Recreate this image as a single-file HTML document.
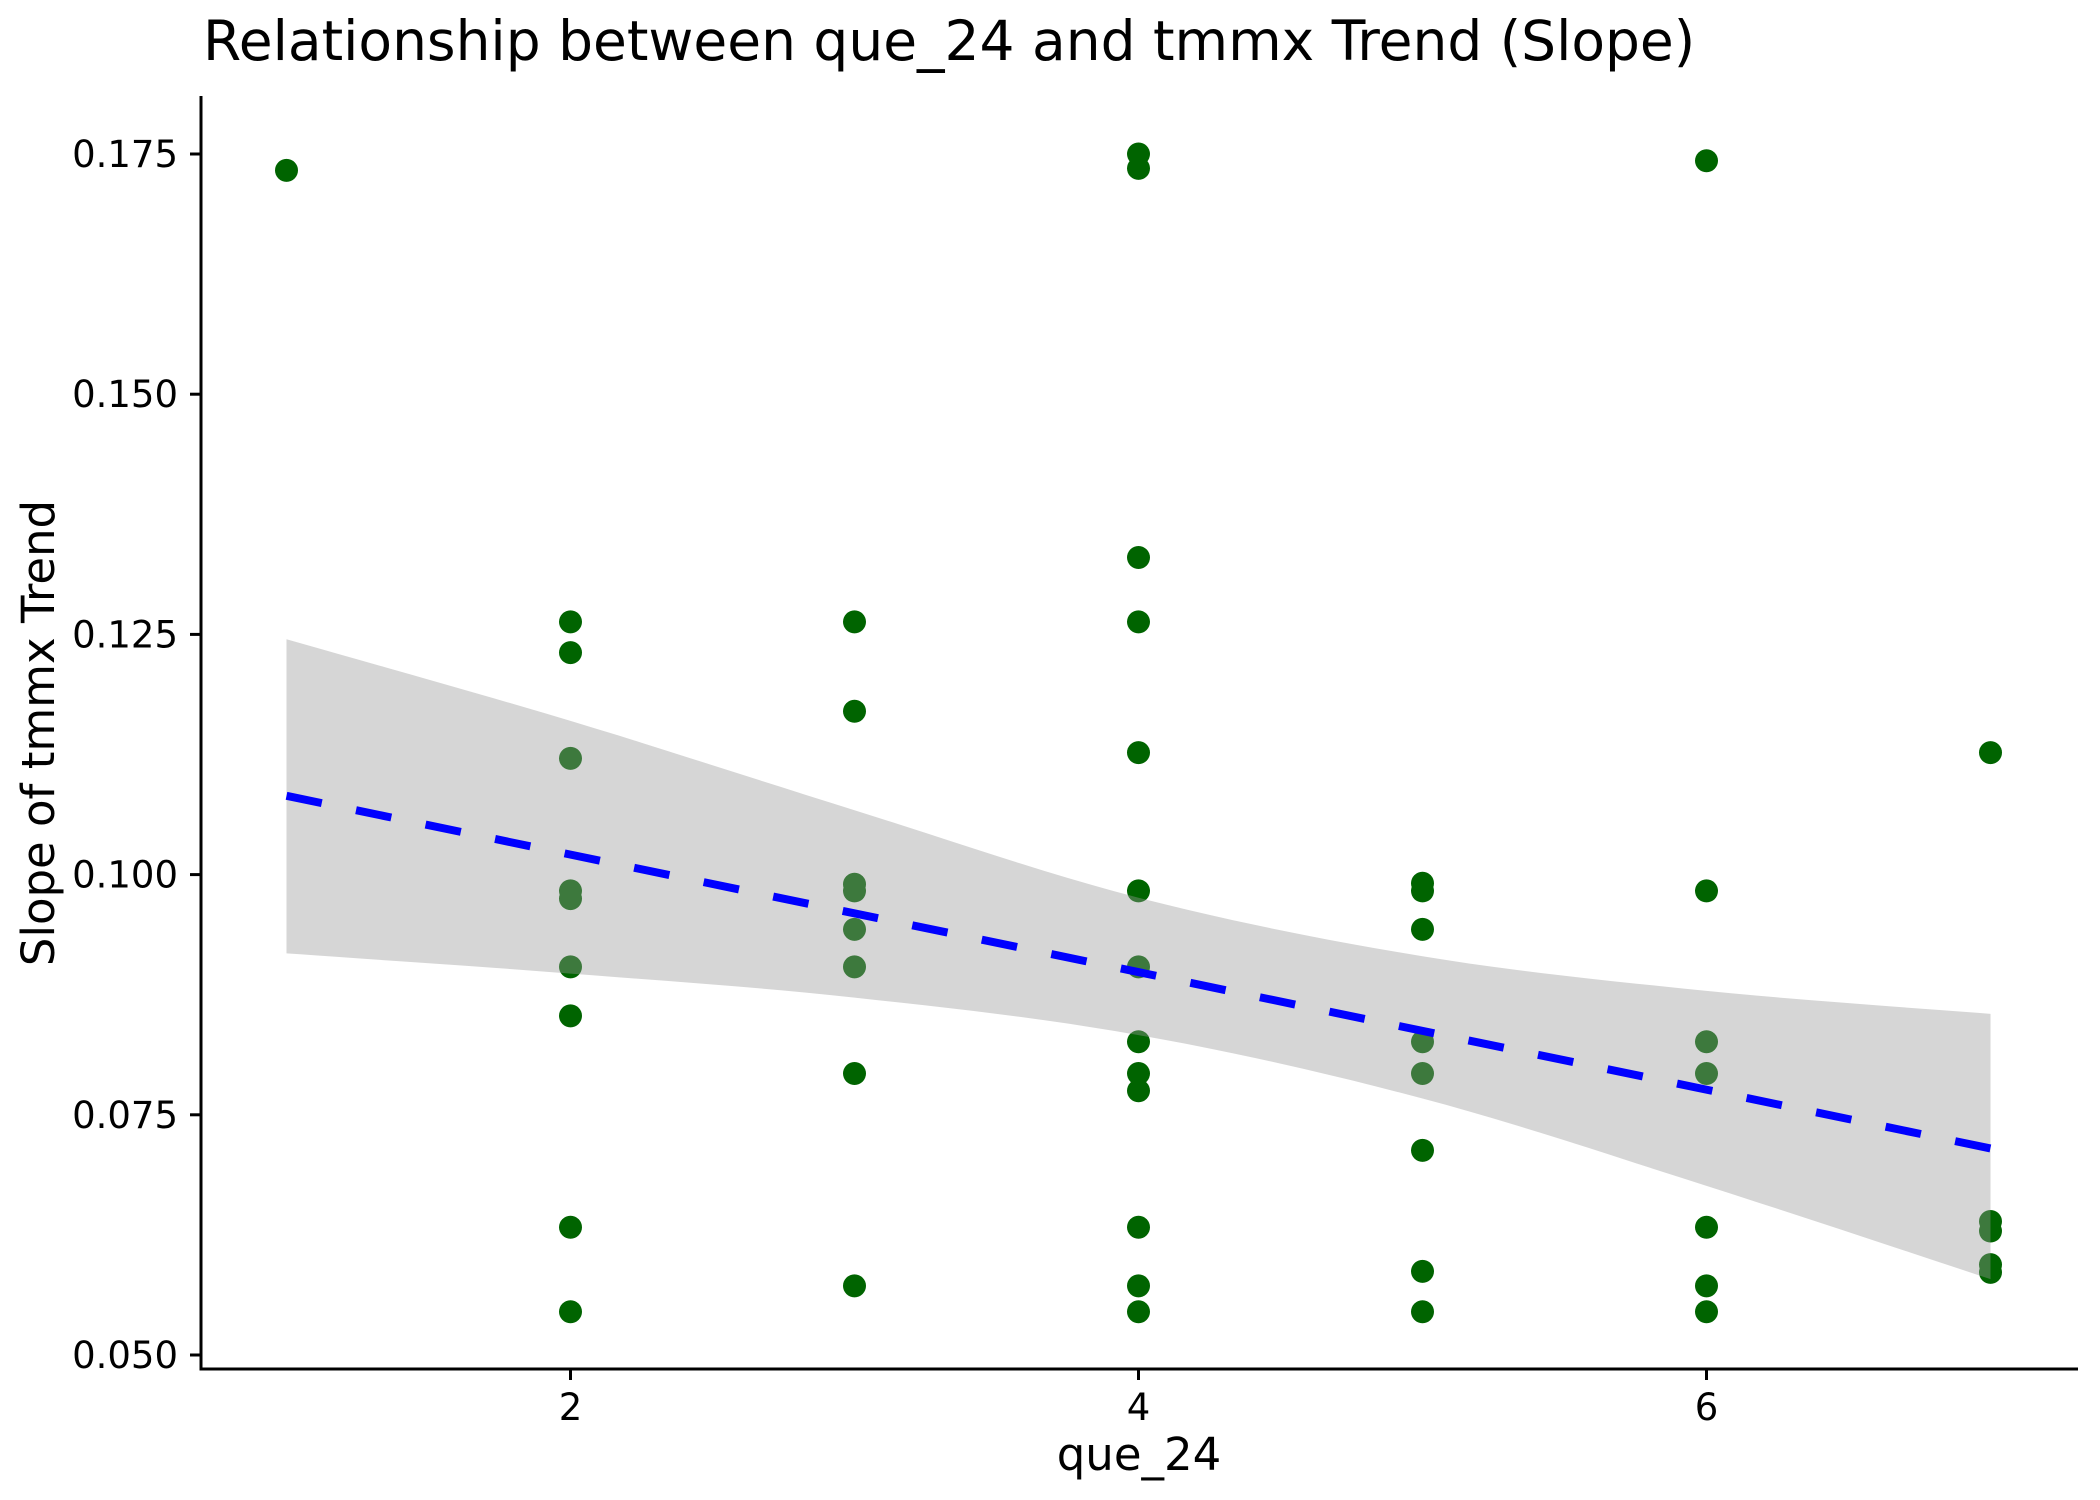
<!DOCTYPE html>
<html><head><meta charset="utf-8"><style>
html,body{margin:0;padding:0;background:#fff;}
svg{display:block;font-family:"DejaVu Sans","Liberation Sans",sans-serif;}
</style></head><body>
<svg id="chart" width="2100" height="1500" viewBox="0 0 2100 1500" xmlns="http://www.w3.org/2000/svg">
<rect width="2100" height="1500" fill="#fff"/>
<text x="203" y="60" font-size="55" fill="#000">Relationship between que_24 and tmmx Trend (Slope)</text>
<g id="points"></g>
<g id="ribbon"></g>
<g id="line"></g>
<g id="axes"></g>
<text x="1139" y="1470" font-size="45" text-anchor="middle" fill="#000">que_24</text>
<text transform="translate(54,733) rotate(-90)" font-size="45" text-anchor="middle" fill="#000">Slope of tmmx Trend</text>
</svg>
<script>
const xValues = [1,
 2,2,2,2,2,2,2,2,2,
 3,3,3,3,3,3,3,3,
 4,4,4,4,4,4,4,4,4,4,4,4,4,
 5,5,5,5,5,5,5,5,
 6,6,6,6,6,6,6,
 7,7,7,7,7];
const yValues = [0.1733,
 0.1263,0.1231,0.1121,0.0983,0.0975,0.0904,0.0853,0.0633,0.0545,
 0.1263,0.1170,0.0990,0.0983,0.0943,0.0904,0.0793,0.0572,
 0.1750,0.1735,0.1330,0.1263,0.1127,0.0983,0.0904,0.0826,0.0793,0.0775,0.0633,0.0572,0.0545,
 0.0991,0.0983,0.0943,0.0826,0.0793,0.0713,0.0587,0.0545,
 0.1743,0.0983,0.0826,0.0793,0.0633,0.0572,0.0545,
 0.1127,0.0639,0.0629,0.0594,0.0586];
const bandX = [1,2,3,4,5,6,7];
const bandUpper = [0.1245,0.1160,0.1067,0.0976,0.0915,0.0879,0.0855];
const bandLower = [0.0918,0.0897,0.0872,0.0833,0.0767,0.0676,0.0579];
const fitX = [1,7];
const fitY = [0.1082,0.0715];
const xTicks = [2,4,6];
const yTicks = [0.050,0.075,0.100,0.125,0.150,0.175];
const yTickLabels = ["0.050","0.075","0.100","0.125","0.150","0.175"];

const NS="http://www.w3.org/2000/svg";
const X0=201, X1=2078, Y0=96, Y1=1369;
function sx(v){return 570.5+(v-2)*284;}
function sy(v){return 1355-(v-0.05)*(1201/0.125);}
function mk(tag,attrs,parent){const e=document.createElementNS(NS,tag);for(const k in attrs)e.setAttribute(k,attrs[k]);parent.appendChild(e);return e;}

// points
const pg=document.getElementById('points');
xValues.forEach((x,i)=>{
  const c=mk('circle',{cx:sx(x),cy:sy(yValues[i]),r:11.5,fill:'#006400'},pg);
  
  
});

// smooth curve through band values (Catmull-Rom)
function smooth(xs,ys){
  const P=xs.map((x,i)=>[sx(x),sy(ys[i])]);const out=[];
  for(let i=0;i<P.length-1;i++){
    const p0=P[Math.max(i-1,0)],p1=P[i],p2=P[i+1],p3=P[Math.min(i+2,P.length-1)];
    for(let k=0;k<12;k++){const t=k/12,t2=t*t,t3=t2*t;
      const f=(a,b,c,d)=>0.5*(2*b+(-a+c)*t+(2*a-5*b+4*c-d)*t2+(-a+3*b-3*c+d)*t3);
      out.push([f(p0[0],p1[0],p2[0],p3[0]),f(p0[1],p1[1],p2[1],p3[1])]);}
  }
  out.push(P[P.length-1]);return out;
}
const up=smooth(bandX,bandUpper), lo=smooth(bandX,bandLower).reverse();
const pts=up.concat(lo).map(p=>p[0].toFixed(1)+','+p[1].toFixed(1)).join(' ');
const rb=mk('polygon',{points:pts,fill:'#999999','fill-opacity':0.4},document.getElementById('ribbon'));


const ln=mk('line',{x1:sx(fitX[0]),y1:sy(fitY[0]),x2:sx(fitX[1]),y2:sy(fitY[1]),stroke:'#0000ff','stroke-width':8,'stroke-dasharray':'36 35'},document.getElementById('line'));



// axes
const ax=document.getElementById('axes');
const yl=mk('line',{x1:X0,y1:Y0,x2:X0,y2:Y1+1.5,stroke:'#000','stroke-width':3},ax);


const xl=mk('line',{x1:X0-1.5,y1:Y1,x2:X1,y2:Y1,stroke:'#000','stroke-width':3},ax);


yTicks.forEach((v,i)=>{
  const t=mk('line',{x1:X0-11,y1:sy(v),x2:X0,y2:sy(v),stroke:'#000','stroke-width':3},ax);
  
  
  const l=mk('text',{x:X0-23,y:sy(v)+13,'font-size':37,'text-anchor':'end',fill:'#000'},ax);
  l.textContent=yTickLabels[i];
  
  
});
xTicks.forEach(v=>{
  const t=mk('line',{x1:sx(v),y1:Y1,x2:sx(v),y2:Y1+11,stroke:'#000','stroke-width':3},ax);
  
  
  const l=mk('text',{x:sx(v),y:1420,'font-size':37,'text-anchor':'middle',fill:'#000'},ax);
  l.textContent=String(v);
  
  
});
</script>
</body></html>
